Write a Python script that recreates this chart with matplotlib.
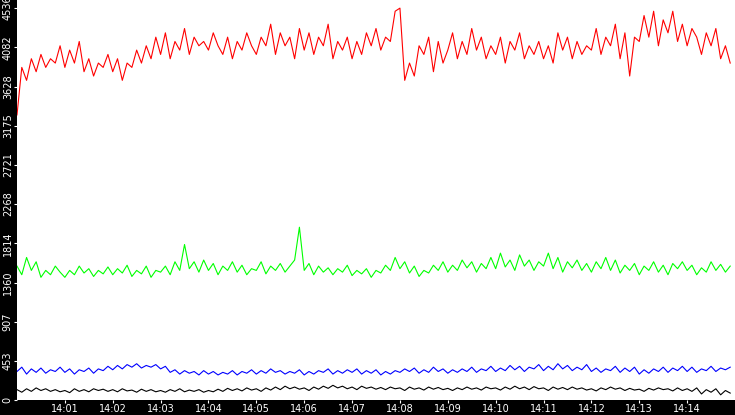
import matplotlib
matplotlib.use("Agg")
import matplotlib.pyplot as plt
import numpy as np

yticks = [0, 453, 907, 1360, 1814, 2268, 2721, 3175, 3628, 4082, 4536]
xtick_labels = ["14:01","14:02","14:03","14:04","14:05","14:06","14:07","14:08","14:09","14:10","14:11","14:12","14:13","14:14"]

red = [3300,3850,3700,3950,3800,4000,3850,3950,3900,4100,
       3850,4050,3900,4150,3800,3950,3750,3900,3850,4000,
       3800,3950,3700,3900,3850,4050,3900,4100,3950,4200,
       4000,4250,3950,4150,4050,4300,4000,4200,4100,4150,
       4050,4250,4100,4000,4200,3950,4150,4050,4250,4100,
       4000,4200,4100,4350,4000,4250,4100,4200,3950,4300,
       4050,4250,4000,4200,4100,4350,3950,4150,4050,4200,
       3950,4150,4000,4250,4100,4300,4050,4200,4150,4500,
       4536,3700,3900,3750,4100,4000,4200,3800,4150,3900,
       4050,4250,3950,4150,4000,4300,4050,4200,3950,4100,
       4000,4200,3900,4150,4050,4250,3950,4100,4000,4150,
       3950,4100,3900,4250,4050,4200,3950,4150,4000,4100,
       4050,4300,4000,4200,4100,4350,3950,4250,3750,4200,
       4150,4450,4200,4500,4100,4400,4250,4500,4150,4350,
       4100,4300,4200,4000,4250,4100,4300,3950,4100,3900]
green = [1550,1450,1650,1500,1600,1420,1500,1450,1550,1480,
         1420,1500,1450,1550,1470,1520,1430,1500,1460,1540,
         1450,1520,1470,1560,1430,1500,1460,1550,1420,1500,
         1480,1550,1450,1600,1500,1800,1520,1600,1480,1620,
         1500,1580,1450,1550,1500,1600,1480,1560,1450,1520,
         1500,1600,1460,1550,1500,1580,1480,1550,1620,2000,
         1500,1580,1450,1550,1480,1530,1450,1520,1480,1560,
         1440,1500,1460,1520,1420,1500,1470,1560,1500,1650,
         1520,1600,1470,1550,1430,1500,1470,1560,1500,1600,
         1480,1560,1500,1620,1530,1600,1480,1580,1520,1650,
         1520,1700,1540,1620,1500,1680,1550,1620,1500,1600,
         1550,1700,1520,1650,1480,1600,1530,1620,1500,1580,
         1480,1600,1520,1650,1500,1620,1470,1560,1500,1580,
         1450,1550,1500,1600,1480,1560,1450,1580,1520,1600,
         1500,1560,1450,1530,1480,1600,1500,1570,1480,1550]
blue = [330,380,300,360,320,370,310,350,330,380,
        320,360,300,350,330,370,310,360,340,390,
        350,400,360,410,380,420,370,400,380,410,
        360,390,320,350,300,340,310,330,290,340,
        300,330,290,320,300,340,290,330,310,350,
        300,340,310,360,320,340,300,330,310,350,
        290,330,300,340,320,360,300,340,310,350,
        320,360,300,340,310,350,290,330,300,340,
        320,360,330,370,310,350,320,380,330,360,
        310,350,320,360,330,380,320,360,340,390,
        330,370,340,400,350,390,330,380,360,410,
        340,390,350,420,360,400,340,380,350,410,
        330,370,320,360,340,390,320,370,330,380,
        300,350,310,360,330,380,320,370,340,390,
        330,380,320,360,340,390,330,370,350,380]
black = [120,90,130,100,140,110,130,100,120,95,
         110,85,130,100,120,95,130,110,125,100,
         120,95,130,105,115,90,125,100,120,95,
         110,90,120,100,130,95,115,100,120,90,
         110,95,125,100,135,110,130,105,140,115,
         130,100,140,115,150,120,160,130,150,125,
         140,110,150,125,160,135,170,140,160,130,
         150,120,160,135,150,125,145,120,150,130,
         140,110,150,125,140,115,150,125,145,120,
         135,110,140,120,150,125,140,115,150,130,
         140,115,150,125,160,130,150,120,155,130,
         140,110,150,125,145,120,150,125,140,115,
         130,105,140,120,150,125,140,110,135,115,
         125,100,135,115,140,120,130,105,140,110,
         130,100,140,70,120,90,130,60,110,80]

x = np.arange(len(red)) * 0.1

fig = plt.figure(figsize=(7.35, 4.15), dpi=100, facecolor="black")
ax = fig.add_axes([17/735, 15/415, 718/735, 400/415])
ax.set_facecolor("white")
for s, c in [(red, "#ff0000"), (green, "#00ff00"), (blue, "#0000ff"), (black, "#000000")]:
    ax.plot(x, s, color=c, lw=0.8)
ax.set_xlim(0, 15)
ax.set_ylim(0, 4630)
ax.set_yticks(yticks)
ax.set_yticklabels([str(v) for v in yticks], rotation=90, va="center", color="white", fontsize=7)
ax.set_xticks(np.arange(1, 15))
ax.set_xticklabels(xtick_labels, color="white", fontsize=7)
ax.tick_params(axis="both", length=2, pad=1, colors="white", labelcolor="white")
for sp in ax.spines.values():
    sp.set_visible(False)
fig.savefig("out.png", dpi=100, facecolor="black")
